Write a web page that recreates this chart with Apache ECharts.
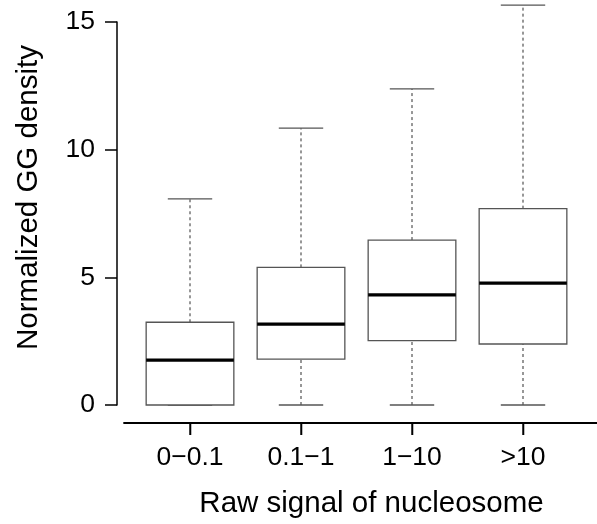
<!DOCTYPE html>
<html>
<head>
<meta charset="utf-8">
<script src="https://cdn.jsdelivr.net/npm/echarts@6/dist/echarts.min.js"></script>
<style>
  html, body { margin: 0; padding: 0; background: #fff; }
  #chart { width: 597px; height: 524px; }
</style>
</head>
<body>
<div id="chart"></div>
<script>
// categories and box stats
const categories = ['0\u22120.1', '0.1\u22121', '1\u221210', '>10'];
const whiskerLow = [0, 0, 0, 0];
const q1 = [0, 1.8, 2.52, 2.39];
const median = [1.76, 3.17, 4.31, 4.77];
const q3 = [3.24, 5.39, 6.46, 7.69];
const whiskerHigh = [8.07, 10.84, 12.38, 15.66];
const yTicks = [0, 5, 10, 15];

const boxData = categories.map((c, i) => [i, whiskerLow[i], q1[i], median[i], q3[i], whiskerHigh[i]]);
const catIndex = categories.map((c, i) => i);

const font = 'Liberation Sans, Arial, sans-serif';
const axisGap = 18;   // x axis sits below the zero line, R style
const chart = echarts.init(document.getElementById('chart'));

function renderBox(params, api) {
  const i = api.value(0);
  const band = api.size([1, 0])[0];
  const boxW = band * 0.79;
  const capW = band * 0.4;
  const pLow = api.coord([i, api.value(1)]);
  const pQ1 = api.coord([i, api.value(2)]);
  const pMed = api.coord([i, api.value(3)]);
  const pQ3 = api.coord([i, api.value(4)]);
  const pHigh = api.coord([i, api.value(5)]);
  const base = api.coord([i, 0])[1];
  const x = pMed[0];
  const edge = { stroke: '#555', lineWidth: 1.3 };
  const dash = { stroke: '#444', lineWidth: 1.1, lineDash: [3, 3] };
  return {
    type: 'group',
    children: [
      { type: 'line', shape: { x1: x, y1: pQ3[1], x2: x, y2: pHigh[1] }, style: dash },
      { type: 'line', shape: { x1: x, y1: pLow[1], x2: x, y2: pQ1[1] }, style: dash },
      { type: 'line', shape: { x1: x - capW / 2, y1: pHigh[1], x2: x + capW / 2, y2: pHigh[1] }, style: edge },
      { type: 'line', shape: { x1: x - capW / 2, y1: pLow[1], x2: x + capW / 2, y2: pLow[1] }, style: edge },
      { type: 'rect', shape: { x: x - boxW / 2, y: pQ3[1], width: boxW, height: pQ1[1] - pQ3[1] },
        style: { fill: '#fff', stroke: '#555', lineWidth: 1.3 } },
      { type: 'line', shape: { x1: x - boxW / 2, y1: pMed[1], x2: x + boxW / 2, y2: pMed[1] },
        style: { stroke: '#000', lineWidth: 3.2 } },
      // category tick under the offset x axis
      { type: 'line', shape: { x1: x, y1: base + axisGap, x2: x, y2: base + axisGap + 12 },
        style: { stroke: '#000', lineWidth: 1.3 } }
    ]
  };
}

chart.setOption({
  animation: false,
  backgroundColor: '#fff',
  grid: [
    { left: 134.5, right: 18.5, top: 22, bottom: 119 },
    { left: 124, right: 0, top: 422, height: 1 }
  ],
  xAxis: [{
    type: 'category',
    gridIndex: 0,
    data: categories,
    offset: axisGap,
    axisLine: { show: true, onZero: false, lineStyle: { color: '#000', width: 1.8 } },
    axisTick: { show: true, alignWithLabel: true, length: 12, lineStyle: { color: '#000', width: 1.3 } },
    axisLabel: { fontSize: 26.5, color: '#000', fontFamily: font, margin: 21 },
    name: 'Raw signal of nucleosome',
    nameLocation: 'middle',
    nameGap: 66,
    nameTextStyle: { fontSize: 29.5, color: '#000', fontFamily: font, padding: [0, 0, 0, 30] }
  }, {
    // long R-style axis line
    type: 'value',
    gridIndex: 1,
    min: -0.5 - 10.5 / 111,
    max: 3.5 + 18.5 / 111,
    axisLine: { show: true, onZero: false, lineStyle: { color: '#000', width: 1.8 } },
    axisTick: { show: true, customValues: catIndex, length: 12, lineStyle: { color: '#000', width: 1.3 } },
    axisLabel: { show: false },
    splitLine: { show: false }
  }],
  yAxis: [{
    type: 'value',
    gridIndex: 0,
    min: 0,
    max: 15,
    interval: 5,
    offset: 17.5,
    axisLine: { show: true, onZero: false, lineStyle: { color: '#000', width: 1.5 } },
    axisTick: { show: true, length: 12, lineStyle: { color: '#000', width: 1.5 } },
    axisLabel: { fontSize: 26.5, color: '#000', fontFamily: font, margin: 22,
      formatter: v => (yTicks.includes(v) ? String(v) : '') },
    splitLine: { show: false },
    name: 'Normalized GG density',
    nameLocation: 'middle',
    nameGap: 73,
    nameTextStyle: { fontSize: 29.5, color: '#000', fontFamily: font, padding: [0, 0, 0, 32] }
  }, {
    type: 'value',
    gridIndex: 1,
    show: false
  }],
  series: [{
    type: 'custom',
    xAxisIndex: 0,
    yAxisIndex: 0,
    clip: false,
    renderItem: renderBox,
    encode: { x: 0, y: [1, 2, 3, 4, 5] },
    data: boxData
  }]
});
</script>
</body>
</html>
